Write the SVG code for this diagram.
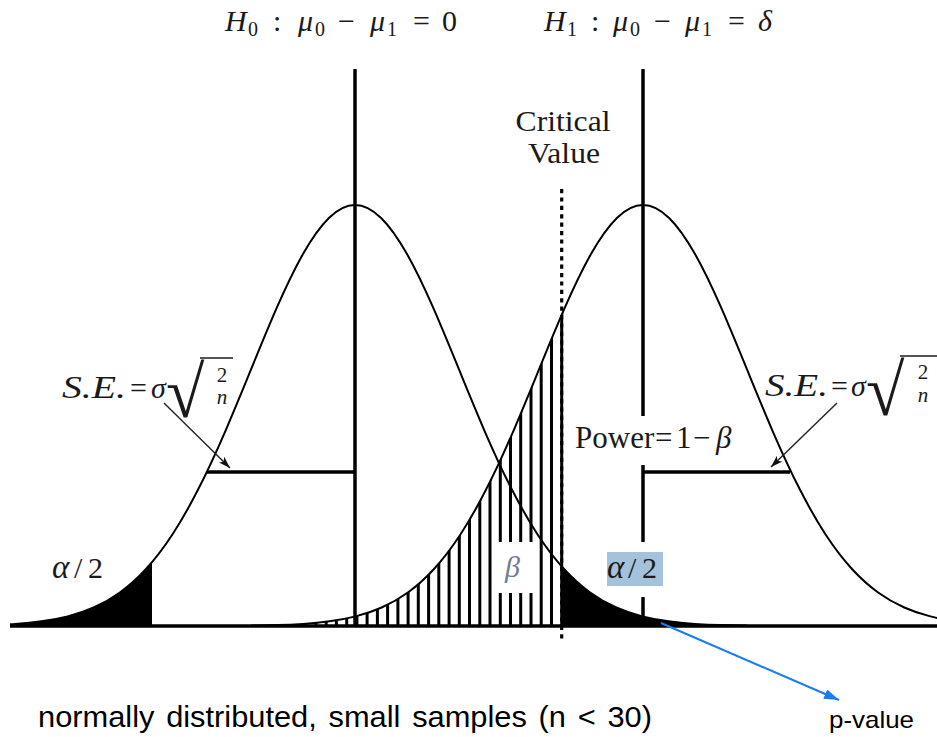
<svg xmlns="http://www.w3.org/2000/svg" xmlns:xlink="http://www.w3.org/1999/xlink" width="937" height="737" viewBox="0 0 937 737">
<style>
.m{font-family:"Liberation Serif","DejaVu Serif",serif;fill:#1a1a1a;}
.mi{font-family:"Liberation Serif","DejaVu Serif",serif;font-style:italic;fill:#1a1a1a;}
.curve{fill:none;stroke:#000;stroke-width:2;}
.thick{stroke:#000;stroke-width:3.5;fill:none;}
.ptr{stroke:#222;stroke-width:1.4;fill:none;}
.bar{stroke:#1a1a1a;stroke-width:1.6;}
.sans{font-family:"Liberation Sans",Arial,sans-serif;fill:#000;}
</style>
<defs>
<path id="gcurve" d="M-391.9,625.6 C-383.2,625.5 -374.5,625.3 -365.8,625.1 C-357.0,624.8 -348.3,624.4 -339.6,623.9 C-330.9,623.3 -322.2,622.5 -313.5,621.3 C-304.8,620.2 -296.1,618.6 -287.4,616.4 C-278.7,614.2 -270.0,611.4 -261.3,607.5 C-252.5,603.6 -243.8,598.8 -235.1,592.5 C-226.4,586.2 -217.7,578.5 -209,569.0 C-200.3,559.5 -191.6,548.2 -182.9,535.0 C-174.2,521.7 -165.5,506.4 -156.8,489.3 C-148.0,472.2 -139.3,453.3 -130.6,433.3 C-121.9,413.2 -113.2,391.9 -104.5,370.7 C-95.8,349.4 -87.1,328.1 -78.4,308.2 C-69.7,288.3 -61.0,270.0 -52.3,254.5 C-43.5,239.0 -34.8,226.5 -26.1,218.0 C-17.4,209.4 -8.7,205 0,205 C8.7,205 17.4,209.4 26.1,218.0 C34.8,226.5 43.5,239.0 52.3,254.5 C61.0,270.0 69.7,288.3 78.4,308.2 C87.1,328.1 95.8,349.4 104.5,370.7 C113.2,391.9 121.9,413.2 130.6,433.3 C139.3,453.3 148.0,472.2 156.8,489.3 C165.5,506.4 174.2,521.7 182.9,535.0 C191.6,548.2 200.3,559.5 209,569.0 C217.7,578.5 226.4,586.2 235.1,592.5 C243.8,598.8 252.5,603.6 261.3,607.5 C270.0,611.4 278.7,614.2 287.4,616.4 C296.1,618.6 304.8,620.2 313.5,621.3 C322.2,622.5 330.9,623.3 339.6,623.9 C348.3,624.4 357.0,624.8 365.8,625.1 C374.5,625.3 383.2,625.5 391.9,625.6"/>
<path id="garea" d="M-391.9,625.6 C-383.2,625.5 -374.5,625.3 -365.8,625.1 C-357.0,624.8 -348.3,624.4 -339.6,623.9 C-330.9,623.3 -322.2,622.5 -313.5,621.3 C-304.8,620.2 -296.1,618.6 -287.4,616.4 C-278.7,614.2 -270.0,611.4 -261.3,607.5 C-252.5,603.6 -243.8,598.8 -235.1,592.5 C-226.4,586.2 -217.7,578.5 -209,569.0 C-200.3,559.5 -191.6,548.2 -182.9,535.0 C-174.2,521.7 -165.5,506.4 -156.8,489.3 C-148.0,472.2 -139.3,453.3 -130.6,433.3 C-121.9,413.2 -113.2,391.9 -104.5,370.7 C-95.8,349.4 -87.1,328.1 -78.4,308.2 C-69.7,288.3 -61.0,270.0 -52.3,254.5 C-43.5,239.0 -34.8,226.5 -26.1,218.0 C-17.4,209.4 -8.7,205 0,205 C8.7,205 17.4,209.4 26.1,218.0 C34.8,226.5 43.5,239.0 52.3,254.5 C61.0,270.0 69.7,288.3 78.4,308.2 C87.1,328.1 95.8,349.4 104.5,370.7 C113.2,391.9 121.9,413.2 130.6,433.3 C139.3,453.3 148.0,472.2 156.8,489.3 C165.5,506.4 174.2,521.7 182.9,535.0 C191.6,548.2 200.3,559.5 209,569.0 C217.7,578.5 226.4,586.2 235.1,592.5 C243.8,598.8 252.5,603.6 261.3,607.5 C270.0,611.4 278.7,614.2 287.4,616.4 C296.1,618.6 304.8,620.2 313.5,621.3 C322.2,622.5 330.9,623.3 339.6,623.9 C348.3,624.4 357.0,624.8 365.8,625.1 C374.5,625.3 383.2,625.5 391.9,625.6 L391.9,626 L-391.9,626 Z"/>
<clipPath id="clipFrom10"><rect x="10" y="0" width="927" height="737"/></clipPath>
<clipPath id="clipLeftTail"><rect x="10" y="0" width="142" height="737"/></clipPath>
<clipPath id="clipRightTail"><rect x="562" y="0" width="375" height="737"/></clipPath>
<clipPath id="clipAlt"><use xlink:href="#garea" href="#garea" transform="translate(643,0)"/></clipPath>
<marker id="ah" viewBox="0 0 12 8" refX="12" refY="4" markerWidth="12" markerHeight="8" markerUnits="userSpaceOnUse" orient="auto"><path d="M0,0 L12,4 L0,8 L3,4 z" fill="#111"/></marker>
<marker id="ahb" viewBox="0 0 15 10" refX="15" refY="5" markerWidth="15" markerHeight="10" markerUnits="userSpaceOnUse" orient="auto"><path d="M0,0 L15,5 L0,10 z" fill="#1a7cf0"/></marker>
</defs>
<rect width="937" height="737" fill="#fff"/>

<!-- Null distribution (H0) -->
<g id="null-distribution">
  <g clip-path="url(#clipLeftTail)"><use href="#garea" transform="translate(355,0)" fill="#000"/></g>
  <g clip-path="url(#clipRightTail)"><use href="#garea" transform="translate(355,0)" fill="#000"/></g>
  <g clip-path="url(#clipFrom10)"><use href="#gcurve" transform="translate(355,0)" class="curve"/></g>
</g>

<!-- Alternative distribution (H1) with beta hatching -->
<g id="alt-distribution">
  <g clip-path="url(#clipAlt)">
    <path d="M561.7,300V626M551.5,300V626M541.2,300V626M531,300V626M520.7,300V626M510.5,300V626M500.3,300V626M490,300V626M479.8,300V626M469.5,300V626M459.3,300V626M449.1,300V626M438.8,300V626M428.6,300V626M418.3,300V626M408.1,300V626M397.9,300V626M387.6,300V626M377.4,300V626M367.1,300V626M356.9,300V626M346.7,300V626M336.4,300V626M326.2,300V626M315.9,300V626M305.7,300V626M295.5,300V626M285.2,300V626" stroke="#000" stroke-width="3" fill="none"/>
  </g>
  <use href="#gcurve" transform="translate(643,0)" class="curve"/>
</g>

<!-- Axes and reference lines -->
<g id="axes">
  <line class="thick" x1="10" y1="626" x2="937" y2="626"/>
  <line class="thick" x1="355" y1="69" x2="355" y2="626"/>
  <line class="thick" x1="643" y1="69" x2="643" y2="416"/>
  <line class="thick" x1="643" y1="465" x2="643" y2="542"/>
  <line class="thick" x1="643" y1="597" x2="643" y2="626"/>
  <line class="thick" x1="207" y1="472" x2="355" y2="472"/>
  <line class="thick" x1="643" y1="472" x2="790" y2="472"/>
  <line x1="561.7" y1="189" x2="561.7" y2="642" stroke="#000" stroke-width="3.2" stroke-dasharray="4.2 4.2"/>
</g>

<!-- Labels -->
<g id="h0-label">
  <text class="m" font-size="30"><tspan class="mi" x="225" y="31">H</tspan><tspan x="248" y="36" font-size="20">0</tspan><tspan x="273" y="31">:</tspan><tspan class="mi" x="298" y="31">μ</tspan><tspan x="315" y="36" font-size="20">0</tspan><tspan x="338" y="31">−</tspan><tspan class="mi" x="370" y="31">μ</tspan><tspan x="387" y="36" font-size="20">1</tspan><tspan x="413" y="31">=</tspan><tspan x="442" y="31">0</tspan></text>
</g>
<g id="h1-label">
  <text class="m" font-size="30"><tspan class="mi" x="544" y="31">H</tspan><tspan x="567" y="36" font-size="20">1</tspan><tspan x="591" y="31">:</tspan><tspan class="mi" x="613" y="31">μ</tspan><tspan x="630" y="36" font-size="20">0</tspan><tspan x="654" y="31">−</tspan><tspan class="mi" x="685" y="31">μ</tspan><tspan x="702" y="36" font-size="20">1</tspan><tspan x="728" y="31">=</tspan><tspan class="mi" x="758" y="31">δ</tspan></text>
</g>
<g id="critical-value">
  <text class="m" font-size="29" text-anchor="middle"><tspan x="563" y="131" textLength="95" lengthAdjust="spacingAndGlyphs">Critical</tspan><tspan x="564" y="163" textLength="72" lengthAdjust="spacingAndGlyphs">Value</tspan></text>
</g>
<g id="se-left">
  <text class="mi" font-size="31" x="62" y="398" textLength="64" lengthAdjust="spacingAndGlyphs">S.E.</text>
  <text class="m" font-size="30" x="130" y="398">=</text>
  <text class="mi" font-size="30" x="151" y="398">σ</text>
  <text class="m" font-size="50" transform="translate(166,417) scale(1.4,1.45)">√</text>
  <line class="bar" x1="200" y1="358" x2="233" y2="358"/>
  <text class="m" font-size="21" x="222" y="382" text-anchor="middle">2</text>
  <text class="mi" font-size="21" x="222" y="404" text-anchor="middle">n</text>
</g>
<g id="se-right">
  <text class="mi" font-size="31" x="765" y="396" textLength="63" lengthAdjust="spacingAndGlyphs">S.E.</text>
  <text class="m" font-size="30" x="831" y="396">=</text>
  <text class="mi" font-size="30" x="851" y="396">σ</text>
  <text class="m" font-size="50" transform="translate(866,415) scale(1.4,1.45)">√</text>
  <line class="bar" x1="900" y1="356" x2="937" y2="356"/>
  <text class="m" font-size="21" x="923" y="379" text-anchor="middle">2</text>
  <text class="mi" font-size="21" x="923" y="402" text-anchor="middle">n</text>
</g>
<g id="power">
  <text class="m" font-size="31"><tspan x="575" y="448">Power</tspan><tspan x="655" y="448">=</tspan><tspan x="676" y="448">1</tspan><tspan x="693" y="448">−</tspan><tspan class="mi" x="716" y="448">β</tspan></text>
</g>
<g id="alpha-left">
  <text class="m" font-size="30"><tspan class="mi" x="52" y="578" font-size="33">α</tspan><tspan x="74" y="578">/</tspan><tspan x="88" y="578">2</tspan></text>
</g>
<g id="alpha-right">
  <rect x="607" y="552" width="56" height="34" fill="#a4c2dc"/>
  <text class="m" font-size="30"><tspan class="mi" x="607" y="578" font-size="33">α</tspan><tspan x="628" y="578">/</tspan><tspan x="642" y="578">2</tspan></text>
</g>
<g id="beta">
  <rect x="495" y="542" width="41" height="51" fill="#fff"/>
  <text class="mi" font-size="30" x="505" y="577" style="fill:#6f7d92">β</text>
</g>
<g id="p-value">
  <text class="sans" font-size="24" x="829" y="728" textLength="85" lengthAdjust="spacingAndGlyphs">p-value</text>
</g>
<g id="caption">
  <text class="sans" font-size="29" x="38" y="727" word-spacing="3" textLength="614" lengthAdjust="spacingAndGlyphs">normally distributed, small samples (n &lt; 30)</text>
</g>

<!-- Connectors -->
<g id="connectors">
  <line class="ptr" x1="164" y1="403" x2="230" y2="468" marker-end="url(#ah)"/>
  <line class="ptr" x1="837" y1="403" x2="771" y2="467" marker-end="url(#ah)"/>
  <line x1="661" y1="623" x2="839" y2="700" stroke="#1a7cf0" stroke-width="2" marker-end="url(#ahb)"/>
</g>
</svg>
